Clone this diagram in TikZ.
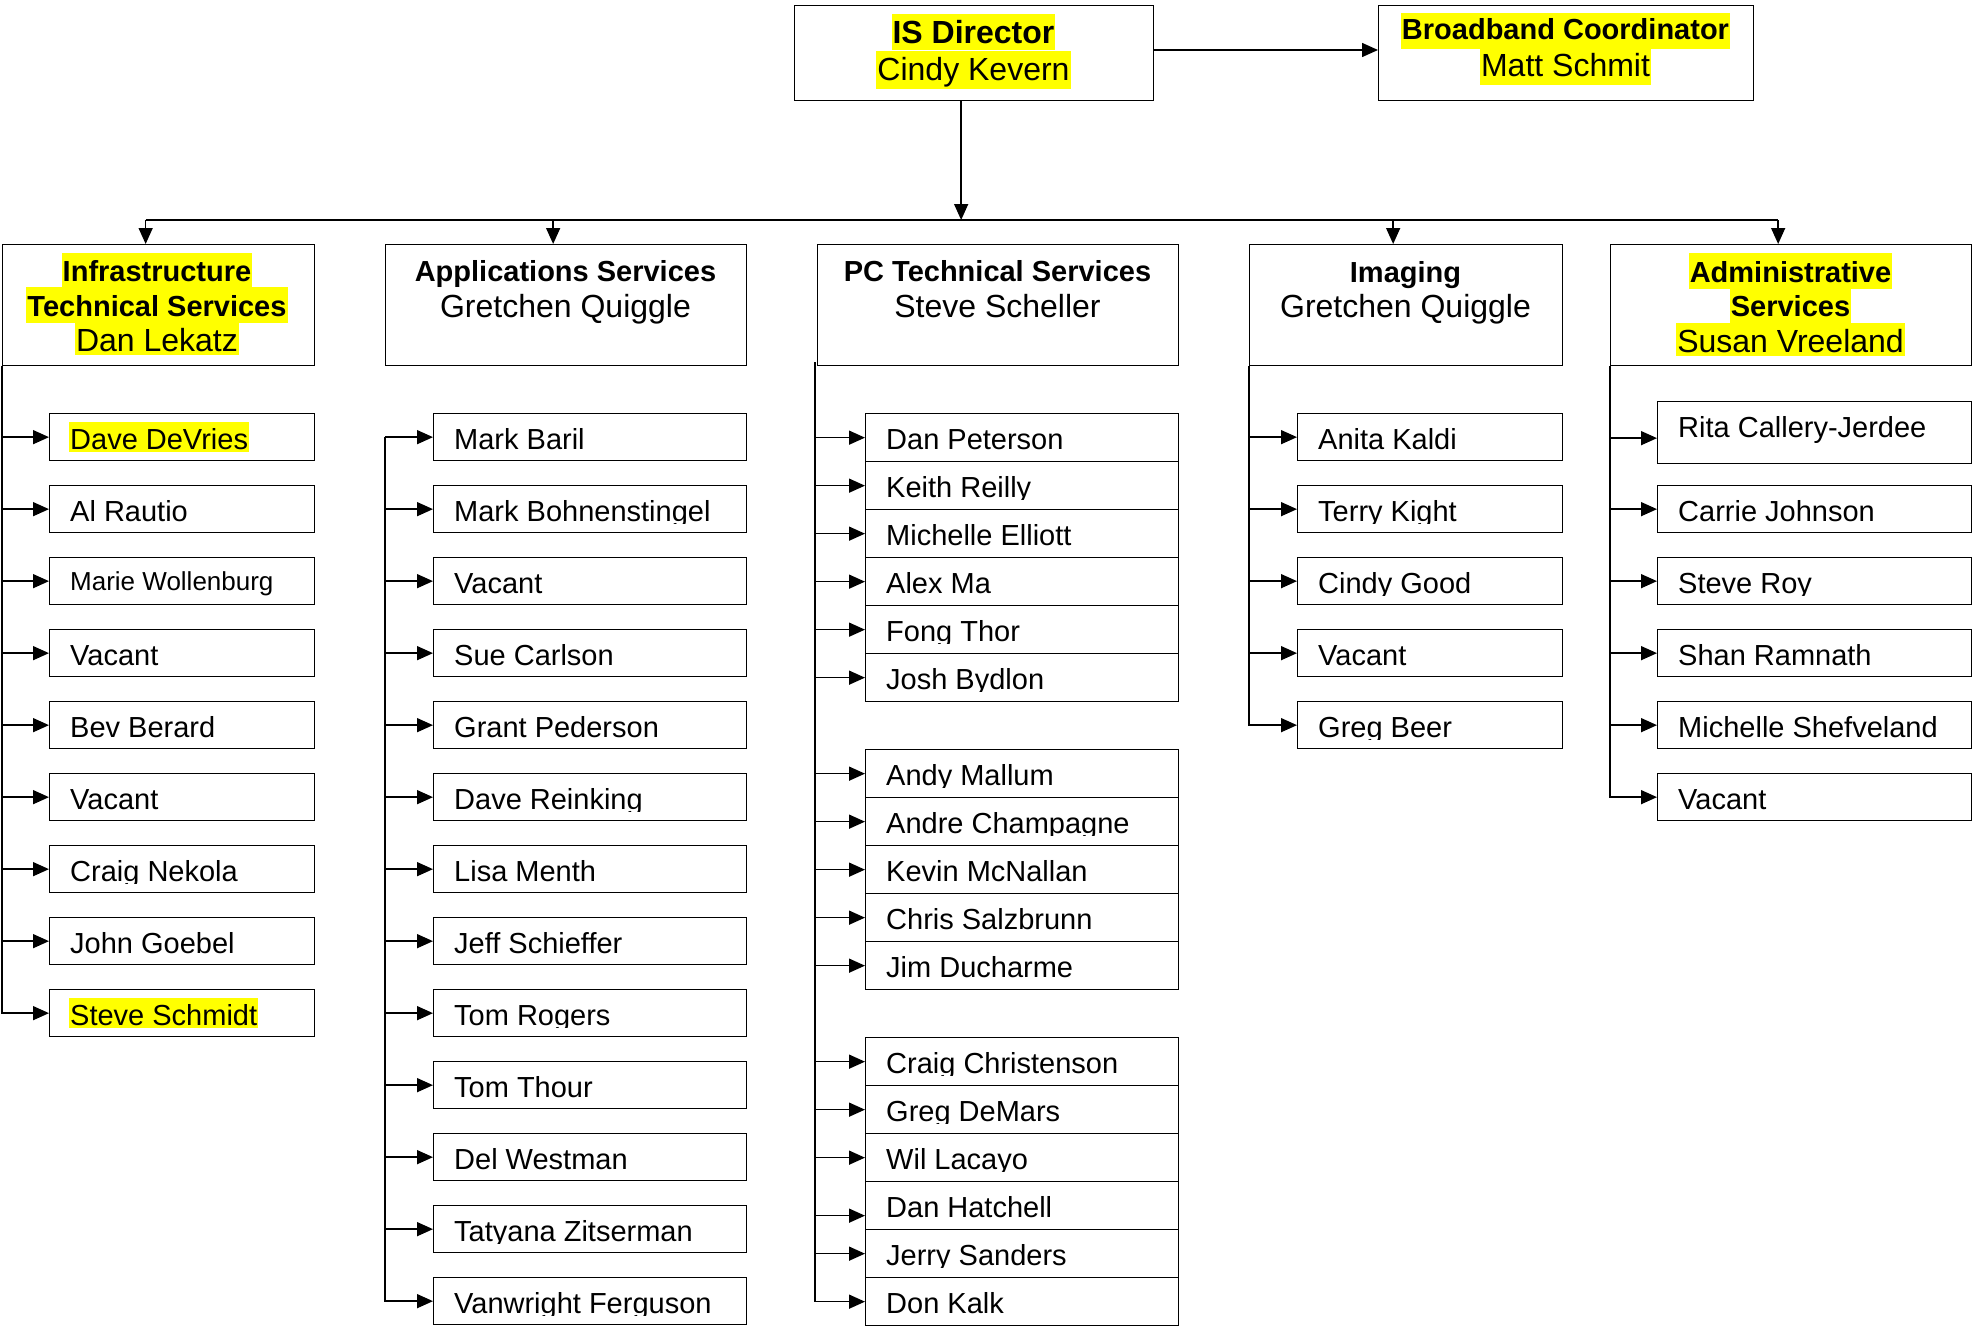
\documentclass[tikz,border=0pt]{standalone}
\usepackage{fontspec}
\setmainfont{Liberation Sans}
\usetikzlibrary{arrows.meta,calc}
\definecolor{hly}{RGB}{255,255,0}
\tikzset{
  box/.style={draw, line width=1.3pt, inner sep=0pt},
  hl/.style={fill=hly},
  txt/.style={anchor=base, inner xsep=1pt, inner ysep=0pt, text height=29pt, text depth=6.5pt},
  ttl/.style={txt, font=\fontsize{29}{34}\selectfont\bfseries},
  nm/.style={txt, font=\fontsize{32}{38}\selectfont},
  kidtxt/.style={anchor=base west, inner xsep=1pt, inner ysep=0pt, text height=27pt, text depth=6.5pt, font=\fontsize{29}{34}\selectfont},
  arr/.style={line width=1.5pt, -{Triangle[length=16pt,width=14pt]}},
  trunk/.style={line width=1.5pt},
}
% #1 text style, #2 name, #3 x, #4 top, #5 width, #6 height, #7 text
\newcommand\kid[7][]{%
  \node[box, anchor=north west, minimum width=#5, minimum height=#6] (#2) at (#3,#4) {};
  \begin{scope}
    \clip (#3,#4) rectangle ++(#5,38.5);
    \node[kidtxt,#1] (#2t) at (#3+20,#4+36) {#7};
  \end{scope}}
\begin{document}
\begin{tikzpicture}[x=1pt,y=-1pt]
\useasboundingbox (0,0) rectangle (1973,1327);

% ---- top boxes
\node[box, anchor=north west, minimum width=359, minimum height=95] (isdir) at (794,5) {};
\node[txt, hl, text height=30pt, font=\fontsize{32}{38}\selectfont\bfseries] (isdir1) at (973.5,44) {IS Director};
\node[nm, hl, text height=30pt, text depth=8pt] (isdir2) at (973.5,81) {Cindy Kevern};

\node[box, anchor=north west, minimum width=375, minimum height=95] (bb) at (1378,5) {};
\node[ttl, hl, text height=27pt, text depth=9pt] (bb1) at (1565.5,40) {Broadband Coordinator};
\node[nm, hl, text height=28pt, text depth=8pt] (bb2) at (1565.5,77) {Matt Schmit};

% ---- department boxes
\node[box, anchor=north west, minimum width=312, minimum height=121] (infra) at (2,244) {};
\node[ttl, hl] (infra1) at (157,281.7) {Infrastructure};
\node[ttl, hl] (infra2) at (157,316) {Technical Services};
\node[nm, hl, text depth=3pt] (infra3) at (157,351.7) {Dan Lekatz};

\node[box, anchor=north west, minimum width=361, minimum height=121] (apps) at (385,244) {};
\node[ttl] (apps1) at (565.5,281.7) {Applications Services};
\node[nm] (apps2) at (565.5,317.3) {Gretchen Quiggle};

\node[box, anchor=north west, minimum width=361, minimum height=121] (pc) at (817,244) {};
\node[ttl] (pc1) at (997.5,281.7) {PC Technical Services};
\node[nm] (pc2) at (997.5,317.3) {Steve Scheller};

\node[box, anchor=north west, minimum width=313, minimum height=121] (img) at (1249,244) {};
\node[ttl] (img1) at (1405.5,282) {Imaging};
\node[nm] (img2) at (1405.5,317) {Gretchen Quiggle};

\node[box, anchor=north west, minimum width=361, minimum height=121] (adm) at (1610,244) {};
\node[ttl, hl] (adm1) at (1790.5,282) {Administrative};
\node[ttl, hl] (adm2) at (1790.5,316) {Services};
\node[nm, hl, text depth=4pt] (adm3) at (1790.5,352) {Susan Vreeland};

% ---- Infrastructure staff
\kid[hl]{i0}{49}{413}{265}{47}{Dave DeVries}
\kid{i1}{49}{485}{265}{47}{Al Rautio}
\kid[font=\fontsize{26}{31}\selectfont, yshift=3pt]{i2}{49}{557}{265}{47}{Marie Wollenburg}
\kid{i3}{49}{629}{265}{47}{Vacant}
\kid{i4}{49}{701}{265}{47}{Bev Berard}
\kid{i5}{49}{773}{265}{47}{Vacant}
\kid{i6}{49}{845}{265}{47}{Craig Nekola}
\kid{i7}{49}{917}{265}{47}{John Goebel}
\kid[hl]{i8}{49}{989}{265}{47}{Steve Schmidt}

% ---- Applications staff
\kid{a0}{433}{413}{313}{47}{Mark Baril}
\kid{a1}{433}{485}{313}{47}{Mark Bohnenstingel}
\kid{a2}{433}{557}{313}{47}{Vacant}
\kid{a3}{433}{629}{313}{47}{Sue Carlson}
\kid{a4}{433}{701}{313}{47}{Grant Pederson}
\kid{a5}{433}{773}{313}{47}{Dave Reinking}
\kid{a6}{433}{845}{313}{47}{Lisa Menth}
\kid{a7}{433}{917}{313}{47}{Jeff Schieffer}
\kid{a8}{433}{989}{313}{47}{Tom Rogers}
\kid{a9}{433}{1061}{313}{47}{Tom Thour}
\kid{a10}{433}{1133}{313}{47}{Del Westman}
\kid{a11}{433}{1205}{313}{47}{Tatyana Zitserman}
\kid{a12}{433}{1277}{313}{47}{Vanwright Ferguson}

% ---- PC Technical staff
\kid{p0}{865}{413}{313}{48}{Dan Peterson}
\kid{p1}{865}{461}{313}{48}{Keith Reilly}
\kid{p2}{865}{509}{313}{48}{Michelle Elliott}
\kid{p3}{865}{557}{313}{48}{Alex Ma}
\kid{p4}{865}{605}{313}{48}{Fong Thor}
\kid{p5}{865}{653}{313}{48}{Josh Bydlon}
\kid{p7}{865}{749}{313}{48}{Andy Mallum}
\kid{p8}{865}{797}{313}{48}{Andre Champagne}
\kid{p9}{865}{845}{313}{48}{Kevin McNallan}
\kid{p10}{865}{893}{313}{48}{Chris Salzbrunn}
\kid{p11}{865}{941}{313}{48}{Jim Ducharme}
\kid{p13}{865}{1037}{313}{48}{Craig Christenson}
\kid{p14}{865}{1085}{313}{48}{Greg DeMars}
\kid{p15}{865}{1133}{313}{48}{Wil Lacayo}
\kid{p16}{865}{1181}{313}{48}{Dan Hatchell}
\kid{p17}{865}{1229}{313}{48}{Jerry Sanders}
\kid{p18}{865}{1277}{313}{48}{Don Kalk}

% ---- Imaging staff
\kid{g0}{1297}{413}{265}{47}{Anita Kaldi}
\kid{g1}{1297}{485}{265}{47}{Terry Kight}
\kid{g2}{1297}{557}{265}{47}{Cindy Good}
\kid{g3}{1297}{629}{265}{47}{Vacant}
\kid{g4}{1297}{701}{265}{47}{Greg Beer}

% ---- Administrative staff
\node[box, anchor=north west, minimum width=314, minimum height=62] (d0) at (1657,401) {};
\node[kidtxt] (d0t) at (1677,437) {Rita Callery-Jerdee};
\kid{d1}{1657}{485}{314}{47}{Carrie Johnson}
\kid{d2}{1657}{557}{314}{47}{Steve Roy}
\kid{d3}{1657}{629}{314}{47}{Shan Ramnath}
\kid{d4}{1657}{701}{314}{47}{Michelle Shefveland}
\kid{d5}{1657}{773}{314}{47}{Vacant}

% ---- top connectors
\coordinate (y50) at (0,50);
\coordinate (bus) at (0,220);
\draw[arr] (isdir.east |- y50) -- (bb.west |- y50);
\coordinate (isD) at ([xshift=-13pt]isdir.south);
\draw[arr] (isD) -- (isD |- bus);
\coordinate (infraN) at ([xshift=-13pt]infra.north);
\coordinate (appsN) at ([xshift=-13pt]apps.north);
\coordinate (imgN) at ([xshift=-13pt]img.north);
\coordinate (admN) at ([xshift=-13pt]adm.north);
\draw[trunk] (infraN |- bus) -- (admN |- bus);
\foreach \d in {infraN,appsN,imgN,admN} \draw[arr] (\d |- bus) -- (\d);

% ---- Infrastructure connectors
\draw[arr] (infra.south west) |- (i8.west);
\foreach \n in {i0,i1,i2,i3,i4,i5,i6,i7} \draw[arr] (infra.south west |- \n.west) -- (\n.west);

% ---- Applications connectors
\draw[arr] (apps.south west |- a0.west) |- (a12.west);
\foreach \n in {a0,a1,a2,a3,a4,a5,a6,a7,a8,a9,a10,a11} \draw[arr] (apps.south west |- \n.west) -- (\n.west);

% ---- PC connectors
\coordinate (pctr) at (815,362);
\draw[arr] (pctr) |- (p18.west);
\foreach \n in {p0,p1,p2,p3,p4,p5,p7,p8,p9,p10,p11,p13,p14,p15,p17} \draw[arr] (pctr |- \n.west) -- (\n.west);
\coordinate (p16a) at ([yshift=-10pt]p16.west);
\draw[arr] (pctr |- p16a) -- (p16a);

% ---- Imaging connectors
\draw[arr] (img.south west) |- (g4.west);
\foreach \n in {g0,g1,g2,g3} \draw[arr] (img.south west |- \n.west) -- (\n.west);

% ---- Administrative connectors
\draw[arr] (adm.south west) |- (d5.west);
\coordinate (d0a) at ([yshift=-5.5pt]d0.west);
\draw[arr] (adm.south west |- d0a) -- (d0a);
\foreach \n in {d1,d2,d3,d4} \draw[arr] (adm.south west |- \n.west) -- (\n.west);
\end{tikzpicture}
\end{document}
